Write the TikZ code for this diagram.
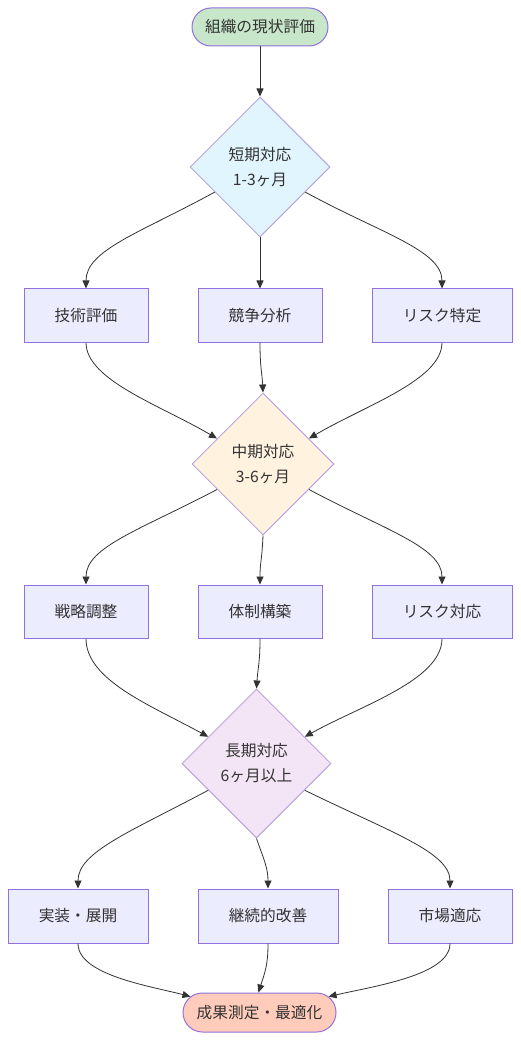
\documentclass[tikz,border=0pt]{standalone}
\usepackage{fontspec}
\setmainfont{Noto Sans CJK JP}
\usetikzlibrary{shapes.geometric,shapes.misc,arrows.meta}
\definecolor{boxfill}{HTML}{ECECFF}
\definecolor{boxline}{HTML}{9370DB}
\definecolor{startfill}{HTML}{C8E6C9}
\definecolor{dafill}{HTML}{E1F5FE}
\definecolor{dbfill}{HTML}{FFF3E0}
\definecolor{dcfill}{HTML}{F3E5F5}
\definecolor{endfill}{HTML}{FFCCBC}
\definecolor{diline}{HTML}{B7A6DE}
\definecolor{txt}{HTML}{333333}
\definecolor{edge}{HTML}{333333}
\tikzset{
  base/.style={font=\fontsize{15.7}{25}\selectfont, text=txt, align=center, inner sep=0pt, line width=1pt},
  procbox/.style={base, rectangle, draw=boxline, fill=boxfill, minimum height=53pt},
  stadium/.style={base, rounded rectangle, draw=boxline, minimum height=38pt},
  phase/.style={base, diamond, draw=diline, aspect=1},
  conn/.style={draw=edge, line width=0.8pt, -{Triangle[length=8pt,width=7pt]}}
}
\begin{document}
\begin{tikzpicture}[x=1pt,y=-1pt]
\useasboundingbox (0,0) rectangle (520,1040);
\fill[white] (0,0) rectangle (520,1040);
\node[stadium, fill=startfill, minimum width=136pt] (top) at (260,27) {組織の現状評価};
\node[phase, fill=dafill, minimum width=140pt, minimum height=140pt] (d1) at (260,167) {短期対応\\1-3ヶ月};
\node[procbox, minimum width=124pt] (b11) at (86,315.5) {技術評価};
\node[procbox, minimum width=124pt] (b12) at (260,315.5) {競争分析};
\node[procbox, minimum width=140pt] (b13) at (442,315.5) {リスク特定};
\node[phase, fill=dbfill, minimum width=142pt, minimum height=142pt] (d2) at (263,464) {中期対応\\3-6ヶ月};
\node[procbox, minimum width=124pt] (b21) at (86,611.5) {戦略調整};
\node[procbox, minimum width=124pt] (b22) at (260,611.5) {体制構築};
\node[procbox, minimum width=140pt] (b23) at (442,611.5) {リスク対応};
\node[phase, fill=dcfill, minimum width=149pt, minimum height=149pt] (d3) at (256.5,763.5) {長期対応\\6ヶ月以上};
\node[procbox, minimum width=140pt, minimum height=54pt] (b31) at (78,916) {実装・展開};
\node[procbox, minimum width=140pt, minimum height=54pt] (b32) at (268,916) {継続的改善};
\node[procbox, minimum width=124pt, minimum height=54pt] (b33) at (450,916) {市場適応};
\node[stadium, fill=endfill, minimum width=153pt, minimum height=39pt] (bot) at (259.5,1012.5) {成果測定・最適化};

\draw[conn] (top.south) -- (d1.north);
\draw[conn] (d1.209) .. controls (140,233) and (86,250) .. (b11.north);
\draw[conn] (d1.south) -- (b12.north);
\draw[conn] (d1.331) .. controls (380,233) and (442,250) .. (b13.north);

\draw[conn] (b11.south) .. controls (86,380) and (160,405) .. (d2.151);
\draw[conn] (b12.south) .. controls (260,368) and (262,372) .. (d2.north);
\draw[conn] (b13.south) .. controls (442,380) and (366,405) .. (d2.29);

\draw[conn] (d2.209) .. controls (140,530) and (86,547) .. (b21.north);
\draw[conn] (d2.south) .. controls (262,560) and (260,562) .. (b22.north);
\draw[conn] (d2.331) .. controls (385,530) and (442,547) .. (b23.north);

\draw[conn] (b21.south) .. controls (86,680) and (150,705) .. (d3.151);
\draw[conn] (b22.south) .. controls (260,663) and (258,666) .. (d3.north);
\draw[conn] (b23.south) .. controls (442,680) and (362,705) .. (d3.29);

\draw[conn] (d3.209) .. controls (130,832) and (78,852) .. (b31.north);
\draw[conn] (d3.south) .. controls (264,860) and (268,868) .. (b32.north);
\draw[conn] (d3.331) .. controls (390,832) and (450,852) .. (b33.north);

\draw[conn] (b31.south) .. controls (78,975) and (150,986) .. (bot.167);
\draw[conn] (b32.south) .. controls (268,965) and (265,972) .. (bot.93);
\draw[conn] (b33.south) .. controls (450,975) and (375,986) .. (bot.13);
\end{tikzpicture}
\end{document}
